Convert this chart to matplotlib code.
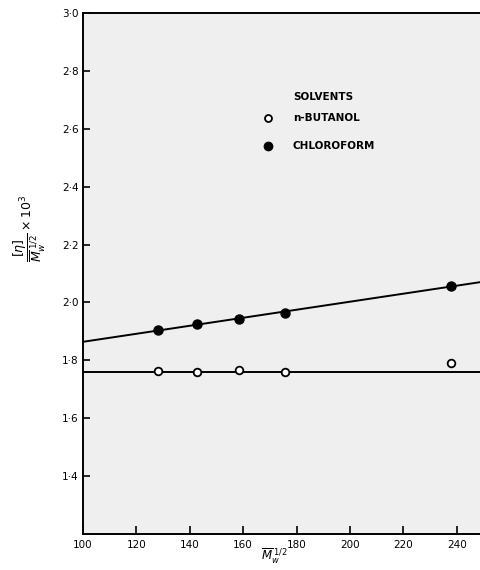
import numpy as np
import matplotlib
matplotlib.use("Agg")
import matplotlib.pyplot as plt
from matplotlib.ticker import FuncFormatter

# data
butanol_x = [128.0, 142.7, 158.5, 175.7, 238.0]
butanol_y = [1.762, 1.761, 1.765, 1.761, 1.790]
chloro_x = [128.0, 142.7, 158.5, 175.7, 238.0]
chloro_y = [1.905, 1.924, 1.944, 1.965, 2.057]
butanol_level = 1.760
x_ticks = [100, 120, 140, 160, 180, 200, 220, 240]
y_ticks = [1.4, 1.6, 1.8, 2.0, 2.2, 2.4, 2.6, 2.8, 3.0]

fig = plt.figure(figsize=(4.81, 5.70), dpi=100)
W, H = 481, 570
ax = fig.add_axes([83 / W, (H - 534) / H, (W - 83) / W, (534 - 13) / H])
ax.set_facecolor("#efefef")

xlim = (100, 249.1)
ax.set_xlim(*xlim)
ax.set_ylim(1.2, 3.0)

# fitted line for chloroform
k, b = np.polyfit(chloro_x, chloro_y, 1)
xs = np.array(xlim)
ax.plot(xs, k * xs + b, color="black", lw=1.4, zorder=2)
ax.plot(xs, [butanol_level, butanol_level], color="black", lw=1.4, zorder=2)

ax.plot(chloro_x, chloro_y, "o", ms=6.5, mfc="black", mec="black", zorder=3)
ax.plot(butanol_x, butanol_y, "o", ms=5.5, mfc="white", mec="black", mew=1.3, zorder=3)

for s in ["left", "bottom", "top"]:
    ax.spines[s].set_linewidth(1.4)
ax.spines["right"].set_visible(False)

ax.set_xticks(x_ticks)
ax.set_yticks(y_ticks)
fmt = FuncFormatter(lambda v, p: f"{v:.1f}".replace(".", "\u00b7"))
ax.yaxis.set_major_formatter(fmt)
ax.tick_params(direction="in", length=5, width=1.2, labelsize=7.5, pad=3)
ax.tick_params(axis="x", length=6, pad=4)
ax.tick_params(top=False, right=False)

# legend drawn as text in data space
def px2data(px, py):
    return ax.transData.inverted().transform(fig.transFigure.transform((px / W, 1 - py / H)))

lx, ly = px2data(293, 97)
ax.text(lx, ly, "SOLVENTS", fontsize=7.5, fontweight="bold", va="center", ha="left")
mx, my1 = px2data(268, 118)
_, my2 = px2data(268, 146)
ax.plot([mx], [my1], "o", ms=5, mfc="white", mec="black", mew=1.3, clip_on=False)
ax.plot([mx], [my2], "o", ms=6, mfc="black", mec="black", clip_on=False)
tx, _ = px2data(293, 0)
ax.text(tx, my1, "n-BUTANOL", fontsize=7.5, fontweight="bold", va="center", ha="left")
ax.text(tx, my2, "CHLOROFORM", fontsize=7.5, fontweight="bold", va="center", ha="left")

fig.text(30 / W, 1 - 228 / H,
         r"$\dfrac{[\eta]}{\overline{M}_w^{\;1/2}}\times 10^3$",
         rotation=90, fontsize=9, ha="center", va="center")
fig.text(274 / W, 1 - 556 / H, r"$\overline{M}_w^{\;1/2}$", fontsize=8.5,
         ha="center", va="center")

fig.savefig("out.png", dpi=100)
